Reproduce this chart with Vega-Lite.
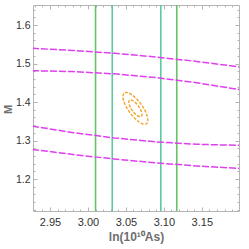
{
  "$schema": "https://vega.github.io/schema/vega-lite/v6.json",
  "width": 206,
  "height": 206,
  "autosize": {"type": "none"},
  "padding": {"left": 33, "top": 5, "right": 10, "bottom": 38},
  "background": "white",
  "config": {
    "view": {"stroke": "#b4b4b4", "strokeWidth": 1},
    "axis": {"domain": false, "grid": false, "labelFont": "Liberation Sans", "titleFont": "Liberation Sans", "tickColor": "#b4b4b4"}
  },
  "datasets": {
    "lines": [
      {"id": "a", "x": 2.9262, "y": 1.5395}, {"id": "a", "x": 2.9804, "y": 1.5341}, {"id": "a", "x": 3.0347, "y": 1.5266}, {"id": "a", "x": 3.0889, "y": 1.5171}, {"id": "a", "x": 3.1432, "y": 1.5054}, {"id": "a", "x": 3.1974, "y": 1.4917}, {"id": "a", "x": 3.2100, "y": 1.4880},
      {"id": "b", "x": 2.9262, "y": 1.4813}, {"id": "b", "x": 2.9804, "y": 1.4791}, {"id": "b", "x": 3.0347, "y": 1.4732}, {"id": "b", "x": 3.0889, "y": 1.4635}, {"id": "b", "x": 3.1432, "y": 1.4501}, {"id": "b", "x": 3.1974, "y": 1.4330}, {"id": "b", "x": 3.2100, "y": 1.4288},
      {"id": "c", "x": 2.9262, "y": 1.3377}, {"id": "c", "x": 2.9804, "y": 1.3204}, {"id": "c", "x": 3.0347, "y": 1.3068}, {"id": "c", "x": 3.0889, "y": 1.2967}, {"id": "c", "x": 3.1432, "y": 1.2903}, {"id": "c", "x": 3.1974, "y": 1.2875}, {"id": "c", "x": 3.2100, "y": 1.2872},
      {"id": "d", "x": 2.9262, "y": 1.2771}, {"id": "d", "x": 2.9804, "y": 1.2636}, {"id": "d", "x": 3.0347, "y": 1.2520}, {"id": "d", "x": 3.0889, "y": 1.2421}, {"id": "d", "x": 3.1432, "y": 1.2340}, {"id": "d", "x": 3.1974, "y": 1.2278}, {"id": "d", "x": 3.2100, "y": 1.2266}
    ],
    "vlines": [
      {"x": 3.010, "kind": "outer"},
      {"x": 3.032, "kind": "inner"},
      {"x": 3.096, "kind": "inner"},
      {"x": 3.117, "kind": "outer"}
    ],
    "ell": [
      {"id": "o", "i": 0, "x": 3.0772, "y": 1.3437}, {"id": "o", "i": 1, "x": 3.0732, "y": 1.3426}, {"id": "o", "i": 2, "x": 3.0676, "y": 1.3478}, {"id": "o", "i": 3, "x": 3.0612, "y": 1.3584},
      {"id": "o", "i": 4, "x": 3.0551, "y": 1.3729}, {"id": "o", "i": 5, "x": 3.0500, "y": 1.3890}, {"id": "o", "i": 6, "x": 3.0468, "y": 1.4043}, {"id": "o", "i": 7, "x": 3.0461, "y": 1.4164},
      {"id": "o", "i": 8, "x": 3.0478, "y": 1.4235}, {"id": "o", "i": 9, "x": 3.0518, "y": 1.4246}, {"id": "o", "i": 10, "x": 3.0574, "y": 1.4194}, {"id": "o", "i": 11, "x": 3.0638, "y": 1.4088},
      {"id": "o", "i": 12, "x": 3.0700, "y": 1.3943}, {"id": "o", "i": 13, "x": 3.0750, "y": 1.3782}, {"id": "o", "i": 14, "x": 3.0782, "y": 1.3629}, {"id": "o", "i": 15, "x": 3.0789, "y": 1.3508},
      {"id": "n", "i": 0, "x": 3.0702, "y": 1.3626}, {"id": "n", "i": 1, "x": 3.0681, "y": 1.3620}, {"id": "n", "i": 2, "x": 3.0651, "y": 1.3646}, {"id": "n", "i": 3, "x": 3.0617, "y": 1.3702},
      {"id": "n", "i": 4, "x": 3.0585, "y": 1.3778}, {"id": "n", "i": 5, "x": 3.0558, "y": 1.3863}, {"id": "n", "i": 6, "x": 3.0542, "y": 1.3944}, {"id": "n", "i": 7, "x": 3.0538, "y": 1.4008},
      {"id": "n", "i": 8, "x": 3.0548, "y": 1.4046}, {"id": "n", "i": 9, "x": 3.0569, "y": 1.4052}, {"id": "n", "i": 10, "x": 3.0599, "y": 1.4026}, {"id": "n", "i": 11, "x": 3.0633, "y": 1.3970},
      {"id": "n", "i": 12, "x": 3.0665, "y": 1.3894}, {"id": "n", "i": 13, "x": 3.0692, "y": 1.3809}, {"id": "n", "i": 14, "x": 3.0708, "y": 1.3728}, {"id": "n", "i": 15, "x": 3.0712, "y": 1.3664}
    ]
  },
  "resolve": {"axis": {"x": "independent", "y": "independent"}},
  "layer": [
    {
      "data": {"name": "vlines"},
      "mark": {"type": "rule", "strokeWidth": 1.6, "clip": true},
      "encoding": {
        "x": {"field": "x", "type": "quantitative", "scale": {"domain": [2.9276, 3.199], "nice": false, "zero": false}, "axis": null},
        "color": {"field": "kind", "type": "nominal", "scale": {"domain": ["outer", "inner"], "range": ["#66c266", "#5cc9a0"]}, "legend": null}
      }
    },
    {
      "data": {"name": "lines"},
      "mark": {"type": "line", "color": "#e03ef0", "strokeWidth": 1.5, "strokeDash": [7, 2], "clip": true},
      "encoding": {
        "x": {"field": "x", "type": "quantitative", "axis": {"orient": "bottom", "values": [2.95, 3.0, 3.05, 3.1, 3.15], "format": ".2f", "ticks": false, "labelPadding": 5, "labelFontSize": 11, "labelColor": "#333333", "title": "ln(10¹⁰As)", "titleFontSize": 12, "titleFontWeight": "bold", "titleColor": "#6e6e6e", "titlePadding": 4}},
        "y": {"field": "y", "type": "quantitative", "scale": {"domain": [1.117, 1.652], "nice": false, "zero": false}, "axis": {"orient": "left", "values": [1.2, 1.3, 1.4, 1.5, 1.6], "format": ".1f", "ticks": false, "labelPadding": 3, "labelFontSize": 10.5, "labelColor": "#333333", "title": "M", "titleFontSize": 11, "titleFontWeight": "bold", "titleColor": "#6e6e6e", "titleX": -20, "titleY": 104}},
        "detail": {"field": "id", "type": "nominal"}
      }
    },
    {
      "data": {"name": "ell"},
      "mark": {"type": "line", "color": "#f2a52a", "strokeWidth": 1.4, "strokeDash": [3, 1.5], "interpolate": "cardinal-closed"},
      "encoding": {
        "x": {"field": "x", "type": "quantitative", "axis": null},
        "y": {"field": "y", "type": "quantitative", "axis": null},
        "detail": {"field": "id", "type": "nominal"},
        "order": {"field": "i", "type": "quantitative"}
      }
    },
    {
      "data": {"name": "ell"},
      "mark": {"type": "point", "opacity": 0},
      "encoding": {
        "x": {"field": "x", "type": "quantitative", "axis": {"orient": "bottom", "values": [2.95, 3.0, 3.05, 3.1, 3.15], "labels": false, "title": null, "tickSize": -4}},
        "y": {"field": "y", "type": "quantitative", "axis": {"orient": "left", "values": [1.2, 1.3, 1.4, 1.5, 1.6], "labels": false, "title": null, "tickSize": -4}}
      }
    },
    {
      "data": {"name": "ell"},
      "mark": {"type": "point", "opacity": 0},
      "encoding": {
        "x": {"field": "x", "type": "quantitative", "axis": {"orient": "top", "values": [2.95, 3.0, 3.05, 3.1, 3.15], "labels": false, "title": null, "tickSize": -4}},
        "y": {"field": "y", "type": "quantitative", "axis": {"orient": "right", "values": [1.2, 1.3, 1.4, 1.5, 1.6], "labels": false, "title": null, "tickSize": -4}}
      }
    },
    {
      "data": {"name": "ell"},
      "mark": {"type": "point", "opacity": 0},
      "encoding": {
        "x": {"field": "x", "type": "quantitative", "axis": {"orient": "bottom", "values": [2.93, 2.94, 2.96, 2.97, 2.98, 2.99, 3.01, 3.02, 3.03, 3.04, 3.06, 3.07, 3.08, 3.09, 3.11, 3.12, 3.13, 3.14, 3.16, 3.17, 3.18, 3.19], "labels": false, "title": null, "tickSize": -2}},
        "y": {"field": "y", "type": "quantitative", "axis": {"orient": "left", "values": [1.12, 1.14, 1.16, 1.18, 1.22, 1.24, 1.26, 1.28, 1.32, 1.34, 1.36, 1.38, 1.42, 1.44, 1.46, 1.48, 1.52, 1.54, 1.56, 1.58, 1.62, 1.64], "labels": false, "title": null, "tickSize": -2}}
      }
    },
    {
      "data": {"name": "ell"},
      "mark": {"type": "point", "opacity": 0},
      "encoding": {
        "x": {"field": "x", "type": "quantitative", "axis": {"orient": "top", "values": [2.93, 2.94, 2.96, 2.97, 2.98, 2.99, 3.01, 3.02, 3.03, 3.04, 3.06, 3.07, 3.08, 3.09, 3.11, 3.12, 3.13, 3.14, 3.16, 3.17, 3.18, 3.19], "labels": false, "title": null, "tickSize": -2}},
        "y": {"field": "y", "type": "quantitative", "axis": {"orient": "right", "values": [1.12, 1.14, 1.16, 1.18, 1.22, 1.24, 1.26, 1.28, 1.32, 1.34, 1.36, 1.38, 1.42, 1.44, 1.46, 1.48, 1.52, 1.54, 1.56, 1.58, 1.62, 1.64], "labels": false, "title": null, "tickSize": -2}}
      }
    }
  ]
}
